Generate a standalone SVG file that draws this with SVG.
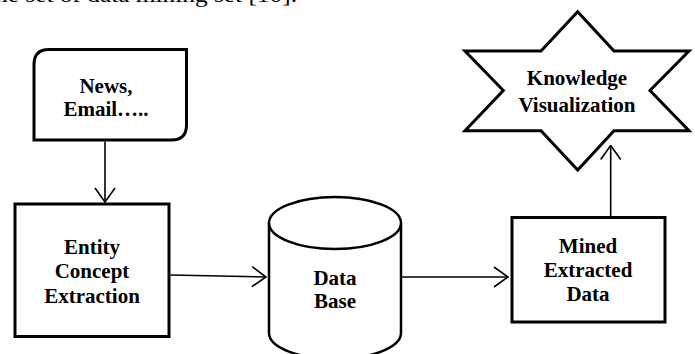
<svg xmlns="http://www.w3.org/2000/svg" width="695" height="354" viewBox="0 0 695 354">
<style>
.shape{fill:#fff;stroke:#000;stroke-width:3}
.cyl{fill:#fff;stroke:#000;stroke-width:2.5}
.lbl{font-family:"Liberation Serif","Times New Roman",serif;font-weight:bold;font-size:21px;fill:#000;text-anchor:middle}
.body{font-family:"Liberation Serif","Times New Roman",serif;font-size:22px;fill:#000}
.conn{fill:none;stroke:#000;stroke-width:1.6}
</style>
<defs>
<marker id="arr" viewBox="0 0 16 22" refX="15" refY="11" markerWidth="16" markerHeight="22" markerUnits="userSpaceOnUse" orient="auto">
<path d="M1,1 L15,11 L1,21" fill="none" stroke="#000" stroke-width="1.6"/>
</marker>
</defs>
<rect width="695" height="354" fill="#fff"/>
<text class="body" x="-12" y="2" textLength="309" lengthAdjust="spacingAndGlyphs">the set of data mining set [10].</text>
<g id="news">
<path class="shape" d="M49,49.5 H186.5 V125 Q186.5,140 171.5,140 H34 V64.5 Q34,49.5 49,49.5 Z"/>
<text class="lbl" x="106" y="93">News,</text>
<text class="lbl" x="106" y="116">Email…..</text>
</g>
<g id="entity">
<rect class="shape" x="15" y="204" width="154" height="132.5"/>
<text class="lbl" x="92" y="254">Entity</text>
<text class="lbl" x="92" y="278">Concept</text>
<text class="lbl" x="92" y="303">Extraction</text>
</g>
<g id="database">
<path class="cyl" d="M269,223 V333 A66,26 0 0 0 401,333 V223"/>
<ellipse class="cyl" cx="335" cy="223" rx="66" ry="26"/>
<text class="lbl" x="335" y="285">Data</text>
<text class="lbl" x="335" y="308">Base</text>
</g>
<g id="mined">
<rect class="shape" x="512" y="217.5" width="153" height="104.5"/>
<text class="lbl" x="588" y="253">Mined</text>
<text class="lbl" x="588" y="277">Extracted</text>
<text class="lbl" x="588" y="301">Data</text>
</g>
<g id="knowledge">
<polygon class="shape" points="577.7,11.7 614,51 689,51 650,90.5 689,130.7 614,130.7 577.7,170 541,130.7 465,130.7 503.3,90.5 465,51 541,51"/>
<text class="lbl" x="577" y="85">Knowledge</text>
<text class="lbl" x="577" y="111.5">Visualization</text>
</g>
<g id="connectors">
<line class="conn" x1="105" y1="141.5" x2="105" y2="202" marker-end="url(#arr)"/>
<line class="conn" x1="170.5" y1="275" x2="266" y2="277" marker-end="url(#arr)"/>
<line class="conn" x1="402" y1="277" x2="508" y2="277" marker-end="url(#arr)"/>
<line class="conn" x1="610.7" y1="216" x2="610.7" y2="145.5" marker-end="url(#arr)"/>
</g>
</svg>
